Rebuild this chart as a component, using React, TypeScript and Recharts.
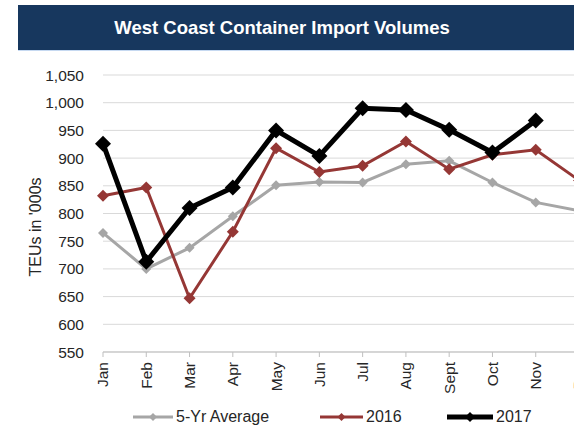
import { LineChart, Line, XAxis, YAxis, CartesianGrid, Legend } from 'recharts';

const months = ['Jan', 'Feb', 'Mar', 'Apr', 'May', 'Jun', 'Jul', 'Aug', 'Sept', 'Oct', 'Nov', 'Dec'];
const fiveYrAvg = [765, 700, 738, 795, 851, 857, 856, 889, 895, 856, 820, 805];
const vol2016 = [832, 847, 647, 767, 918, 875, 886, 930, 880, 906, 915, 860];
const vol2017: (number | null)[] = [926, 713, 810, 847, 950, 904, 990, 987, 951, 910, 968, null];
const yTicks = [550, 600, 650, 700, 750, 800, 850, 900, 950, 1000, 1050];

const data = months.map((m, i) => ({
  month: m,
  avg: fiveYrAvg[i],
  y2016: vol2016[i],
  y2017: vol2017[i],
}));

const FONT = '"Liberation Sans", Arial, sans-serif';

function diamond(r: number, color: string) {
  return (props: any) => {
    const { cx, cy, index } = props;
    if (cx == null || cy == null || props.value == null) return <g key={index} />;
    return (
      <polygon
        key={index}
        points={`${cx},${cy - r} ${cx + r},${cy} ${cx},${cy + r} ${cx - r},${cy}`}
        fill={color}
      />
    );
  };
}

function MonthTick({ x, y, payload }: any) {
  return (
    <text
      x={x}
      y={y + 3}
      transform={`rotate(-90, ${x}, ${y + 3})`}
      textAnchor="end"
      dy="0.35em"
      fontSize={15.5}
      fontFamily={FONT}
      fill="#262626"
    >
      {payload.value}
    </text>
  );
}

const legendItems = [
  { label: '5-Yr Average', color: '#a6a6a6', x: 133, len: 40, w: 3, r: 4 },
  { label: '2016', color: '#953735', x: 320, len: 43, w: 3, r: 4 },
  { label: '2017', color: '#000000', x: 447, len: 46, w: 5, r: 5 },
];

function LegendContent() {
  return (
    <div style={{ position: 'relative', width: 574, height: 20 }}>
      {legendItems.map((it) => (
        <div key={it.label} style={{ position: 'absolute', left: it.x, top: 0, height: 20, display: 'flex', alignItems: 'center' }}>
          <svg width={it.len} height={14}>
            <line x1={0} y1={7} x2={it.len} y2={7} stroke={it.color} strokeWidth={it.w} />
            <polygon
              points={`${it.len / 2},${7 - it.r} ${it.len / 2 + it.r},7 ${it.len / 2},${7 + it.r} ${it.len / 2 - it.r},7`}
              fill={it.color}
            />
          </svg>
          <span style={{ fontFamily: FONT, fontSize: 16, color: '#262626', marginLeft: 3 }}>{it.label}</span>
        </div>
      ))}
    </div>
  );
}

export default function App() {
  return (
    <div style={{ position: 'absolute', left: 0, top: 0, width: 574, height: 427, overflow: 'hidden', background: '#fff' }}>
      <div style={{ position: 'absolute', left: 18, top: 5, width: 556, height: 45, background: '#17375e' }}>
        <div style={{ width: 528, textAlign: 'center', lineHeight: '45px', color: '#fff', fontFamily: FONT, fontWeight: 'bold', fontSize: 18.5 }}>
          West Coast Container Import Volumes
        </div>
      </div>
      <div style={{ position: 'absolute', left: 18, top: 50, width: 556, height: 1, background: '#c6d9f1' }} />
      <div style={{ position: 'absolute', left: 0, top: 0 }}>
        <LineChart width={600} height={427} data={data} margin={{ top: 75, right: 21, left: 0, bottom: 0 }}>
          <CartesianGrid vertical={false} stroke="#d9d9d9" strokeWidth={1} />
          <XAxis
            dataKey="month"
            interval={0}
            height={55}
            tick={<MonthTick />}
            axisLine={{ stroke: '#bfbfbf' }}
            tickLine={{ stroke: '#bfbfbf' }}
            tickSize={5}
          />
          <YAxis
            domain={[550, 1050]}
            ticks={yTicks}
            width={103}
            axisLine={false}
            tickLine={false}
            tickMargin={13}
            tickFormatter={(v: number) => v.toLocaleString('en-US')}
            tick={{ fontSize: 15.5, fontFamily: FONT, fill: '#262626' }}
            label={(props: any) => (
              <text
                x={35}
                y={227}
                transform="rotate(-90, 35, 227)"
                textAnchor="middle"
                dy="0.35em"
                fontSize={16}
                fontFamily={FONT}
                fill="#262626"
              >
                TEUs in '000s
              </text>
            )}
          />
          <Legend verticalAlign="bottom" content={<LegendContent />} wrapperStyle={{ left: 0, width: 574 }} />
          <Line
            dataKey="avg"
            name="5-Yr Average"
            stroke="#a6a6a6"
            strokeWidth={3}
            dot={diamond(5, '#a6a6a6')}
            activeDot={false}
            isAnimationActive={false}
          />
          <Line
            dataKey="y2016"
            name="2016"
            stroke="#953735"
            strokeWidth={3}
            dot={diamond(6, '#953735')}
            activeDot={false}
            isAnimationActive={false}
          />
          <Line
            dataKey="y2017"
            name="2017"
            stroke="#000000"
            strokeWidth={5}
            dot={diamond(8, '#000000')}
            activeDot={false}
            isAnimationActive={false}
          />
        </LineChart>
      </div>
    </div>
  );
}
